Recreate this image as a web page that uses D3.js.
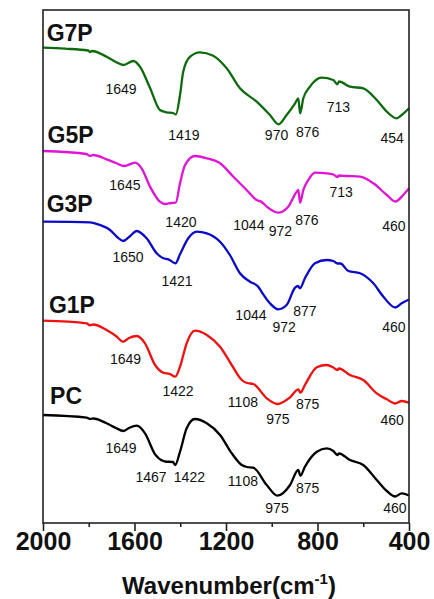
<!DOCTYPE html>
<html>
<head>
<meta charset="utf-8">
<script src="https://cdn.jsdelivr.net/npm/d3@7"></script>
<style>
  body { margin: 0; background: #fff; }
  svg { display: block; }
  text { font-family: Arial, "Liberation Sans", sans-serif; fill: #111; }
</style>
</head>
<body>
<svg id="chart" width="434" height="599"></svg>
<script>
// FTIR spectra, stacked with vertical offsets (arbitrary transmittance units)
const seriesNames = ["G7P", "G5P", "G3P", "G1P", "PC"];
const seriesColors = ["#0d6b0d", "#e014d4", "#0a0ac8", "#f01010", "#000000"];

const g7pWavenumber = [2000, 1904, 1803, 1795, 1786, 1722, 1681, 1649, 1605, 1576, 1532, 1489, 1459, 1432, 1419, 1401, 1387, 1357, 1314, 1256, 1197, 1139, 1066, 1008, 970, 935, 898, 884, 876, 862, 833, 782, 731, 713, 706, 658, 600, 541, 497, 454, 432, 400];
const g7pSignal = [475.3, 474.3, 472.5, 471, 472, 466.3, 461, 458, 462, 456.3, 435, 413, 410.7, 410, 408.7, 428, 451.3, 466.3, 470.7, 467.3, 454.7, 434.7, 421.3, 408, 398.7, 408, 419.7, 424.7, 409.7, 424.7, 436.3, 445.3, 443, 438.7, 441.5, 436.3, 434.7, 423, 411.3, 404.7, 408, 414.7];

const g5pWavenumber = [2000, 1809, 1795, 1781, 1722, 1681, 1645, 1598, 1569, 1532, 1489, 1467, 1440, 1420, 1401, 1379, 1336, 1284, 1226, 1168, 1110, 1066, 1044, 1022, 972, 928, 891, 884, 876, 862, 840, 811, 760, 731, 713, 706, 672, 614, 556, 497, 460, 425, 400];
const g5pSignal = [372, 369, 367, 368, 363.7, 360, 357, 360.3, 354.7, 336.3, 321.3, 319, 320, 320.3, 339.7, 358, 367, 364.7, 359.7, 346.3, 333, 323, 321, 316.3, 310.3, 316.3, 331.3, 333, 320.3, 333, 343, 350.3, 349.7, 348.5, 346, 347.5, 347, 346.3, 339.7, 328, 321.5, 328, 334.7];

const g3pWavenumber = [2000, 1795, 1751, 1707, 1676, 1650, 1624, 1590, 1547, 1503, 1474, 1452, 1421, 1401, 1365, 1328, 1284, 1226, 1183, 1139, 1095, 1059, 1044, 1008, 972, 935, 898, 885, 877, 855, 811, 760, 731, 713, 700, 665, 614, 556, 512, 460, 432, 400];
const g3pSignal = [301.3, 300.7, 298, 293, 286, 282, 286, 292, 284.7, 269.7, 264.7, 263.7, 259.7, 268.7, 284.7, 291.3, 289.7, 281.3, 268, 249.7, 241.3, 236.3, 231, 219.7, 213.7, 218, 235.3, 237, 234.7, 244.7, 259.7, 263, 262, 259.5, 259.5, 252, 249.7, 239.7, 226.3, 215.5, 219.7, 223.5];

const g1pWavenumber = [2000, 1809, 1795, 1781, 1722, 1681, 1649, 1624, 1590, 1554, 1510, 1474, 1445, 1422, 1401, 1372, 1336, 1284, 1226, 1175, 1131, 1108, 1081, 1022, 975, 920, 884, 875, 855, 803, 760, 731, 713, 706, 658, 600, 541, 497, 460, 432, 400];
const g1pSignal = [202.3, 199.7, 197.7, 198.5, 193, 187, 181.3, 185, 187, 179.7, 158, 150.3, 149, 146.3, 156.3, 179.7, 192.3, 188, 176.3, 158, 143, 140, 139, 124.7, 119, 125.7, 133.7, 130.3, 138, 155.7, 158, 155.5, 153, 154.5, 148, 143, 129.7, 123.7, 119.5, 122, 120.3];

const pcWavenumber = [2000, 1809, 1795, 1781, 1722, 1681, 1649, 1624, 1590, 1554, 1510, 1474, 1467, 1432, 1422, 1401, 1372, 1336, 1284, 1226, 1175, 1131, 1108, 1081, 1022, 975, 920, 884, 875, 855, 803, 760, 731, 713, 706, 658, 600, 541, 497, 460, 432, 400];
const pcSignal = [108, 105.3, 104, 104.5, 99.7, 95, 92, 95, 97.3, 89.7, 68.7, 62, 61.5, 61, 58, 71.3, 94.7, 104, 99.7, 88, 69.7, 58, 56, 55.3, 38, 27.3, 38, 53, 47.3, 56.3, 71.3, 74.7, 72, 68, 69.5, 63, 58, 43, 32, 26.5, 29.7, 27.5];

// Band labels: text, anchor wavenumber and anchor level (same units as the spectra)
const g7pBands = [["1649", 1659, 429.3], ["1419", 1384, 383], ["970", 979, 383], ["876", 843, 385.7], ["713", 709, 411.3], ["454", 474, 380.3]];
const g5pBands = [["1645", 1642, 333], ["1420", 1397, 296.3], ["1044", 1100, 293], ["972", 962, 287.3], ["876", 846, 298], ["713", 697, 326.3], ["460", 466, 292.3]];
const g3pBands = [["1650", 1628, 261.3], ["1421", 1414, 237], ["1044", 1091, 203], ["972", 946, 191.3], ["877", 855, 207.3], ["460", 466, 191.3]];
const g1pBands = [["1649", 1639, 159], ["1422", 1410, 127], ["1108", 1126, 116.3], ["975", 973, 99], ["875", 843, 113.7], ["460", 474, 98]];
const pcBands = [["1649", 1659, 70.3], ["1467", 1528, 40.7], ["1422", 1360, 40.7], ["1108", 1126, 37], ["975", 977, 10.3], ["875", 843, 30.3], ["460", 462, 10.3]];

// Sample-name label anchors (wavenumber, level)
const nameAnchorWavenumber = [1984, 1980, 1984, 1974, 1969];
const nameAnchorLevel = [482.3, 380.3, 311.3, 210.3, 118.7];

const majorTicks = [2000, 1600, 1200, 800, 400];
const minorTicks = [1800, 1400, 1000, 600];
const xDomain = [2000, 400];
const yDomain = [0, 513];

const seriesWavenumbers = [g7pWavenumber, g5pWavenumber, g3pWavenumber, g1pWavenumber, pcWavenumber];
const seriesSignals = [g7pSignal, g5pSignal, g3pSignal, g1pSignal, pcSignal];
const seriesBands = [g7pBands, g5pBands, g3pBands, g1pBands, pcBands];

const margin = { top: 10, right: 25, bottom: 76, left: 43 };
const width = 434, height = 599;
const svg = d3.select("#chart");

const x = d3.scaleLinear().domain(xDomain).range([margin.left, width - margin.right]);
const y = d3.scaleLinear().domain(yDomain).range([height - margin.bottom, margin.top]);

const line = d3.line()
  .x(d => x(d[0]))
  .y(d => y(d[1]))
  .curve(d3.curveMonotoneX);

// spectra
seriesNames.forEach((name, i) => {
  const pts = d3.zip(seriesWavenumbers[i], seriesSignals[i]);
  svg.append("path")
    .datum(pts)
    .attr("fill", "none")
    .attr("stroke", seriesColors[i])
    .attr("stroke-width", 2.3)
    .attr("stroke-linejoin", "round")
    .attr("d", line);
});

// band labels
seriesBands.forEach(bands => {
  svg.append("g").selectAll("text")
    .data(bands)
    .join("text")
    .attr("x", d => x(d[1]))
    .attr("y", d => y(d[2]))
    .attr("text-anchor", "middle")
    .attr("font-size", 14)
    .text(d => d[0]);
});

// sample names
seriesNames.forEach((name, i) => {
  svg.append("text")
    .attr("x", x(nameAnchorWavenumber[i]))
    .attr("y", y(nameAnchorLevel[i]))
    .attr("font-size", 23)
    .attr("font-weight", "bold")
    .text(name);
});

// frame
svg.append("rect")
  .attr("x", x(2000))
  .attr("y", y(yDomain[1]))
  .attr("width", x(400) - x(2000))
  .attr("height", y(yDomain[0]) - y(yDomain[1]))
  .attr("fill", "none")
  .attr("stroke", "#222")
  .attr("stroke-width", 1.6);

// bottom axis: major ticks with labels, minor ticks without
const axisY = height - margin.bottom;
const major = svg.append("g")
  .attr("transform", `translate(0,${axisY})`)
  .call(d3.axisBottom(x).tickValues(majorTicks).tickSize(8).tickFormat(d3.format("d")));
major.select(".domain").remove();
major.selectAll(".tick line").attr("stroke", "#222").attr("stroke-width", 1.6);
major.selectAll(".tick text")
  .attr("y", 27)
  .attr("dy", null)
  .attr("fill", "#111")
  .style("font-family", 'Arial, "Liberation Sans", sans-serif')
  .style("font-size", "25px")
  .style("font-weight", "bold");

const minor = svg.append("g")
  .attr("transform", `translate(0,${axisY})`)
  .call(d3.axisBottom(x).tickValues(minorTicks).tickSize(4).tickFormat(""));
minor.select(".domain").remove();
minor.selectAll(".tick line").attr("stroke", "#222").attr("stroke-width", 1.6);

// axis title
const title = svg.append("text")
  .attr("x", (x(2000) + x(400)) / 2 + 3)
  .attr("y", 594)
  .attr("text-anchor", "middle")
  .attr("font-size", 24)
  .attr("font-weight", "bold");
title.append("tspan").text("Wavenumber(cm");
title.append("tspan").attr("font-size", 15).attr("dy", -10).text("-1");
title.append("tspan").attr("font-size", 24).attr("dy", 10).text(")");
</script>
</body>
</html>
